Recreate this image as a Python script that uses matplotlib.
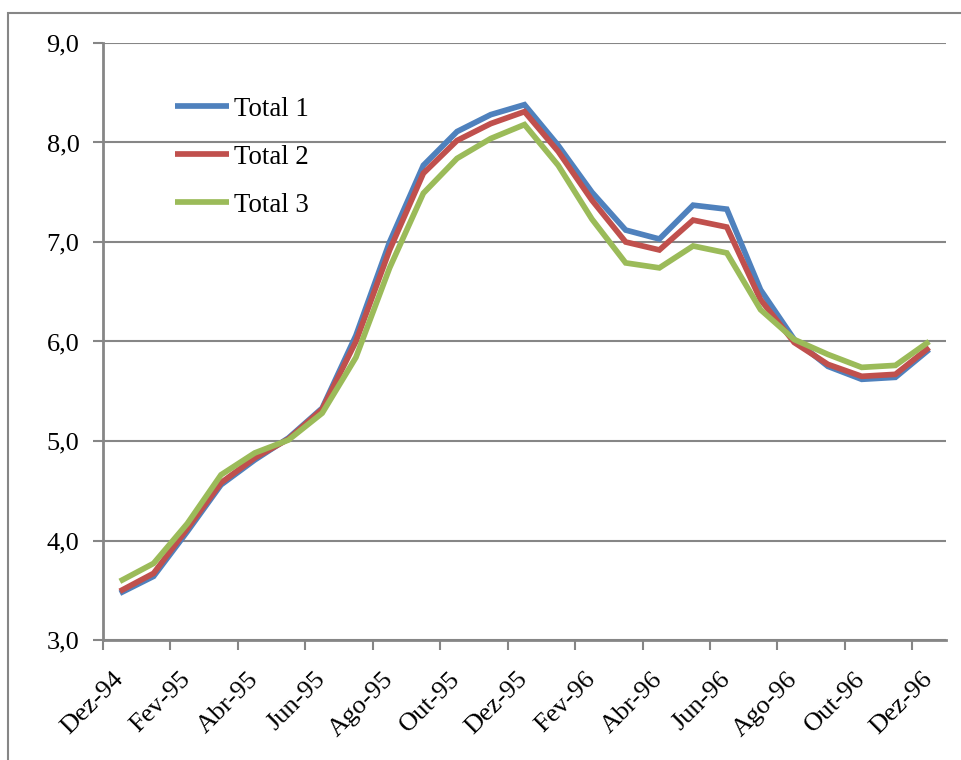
import matplotlib
matplotlib.use("Agg")
import matplotlib.pyplot as plt
from matplotlib.patches import Rectangle
from matplotlib.ticker import FuncFormatter, FixedLocator

months = ["Dez-94", "Jan-95", "Fev-95", "Mar-95", "Abr-95", "Mai-95", "Jun-95",
          "Jul-95", "Ago-95", "Set-95", "Out-95", "Nov-95", "Dez-95", "Jan-96",
          "Fev-96", "Mar-96", "Abr-96", "Mai-96", "Jun-96", "Jul-96", "Ago-96",
          "Set-96", "Out-96", "Nov-96", "Dez-96"]
total1 = [3.47, 3.64, 4.09, 4.56, 4.81, 5.03, 5.33, 6.06, 7.00, 7.77, 8.11, 8.28, 8.38,
          7.97, 7.50, 7.12, 7.03, 7.37, 7.33, 6.52, 6.02, 5.75, 5.62, 5.64, 5.92]
total2 = [3.49, 3.67, 4.12, 4.58, 4.83, 5.02, 5.32, 6.00, 6.92, 7.69, 8.02, 8.19, 8.31,
          7.91, 7.42, 7.00, 6.92, 7.22, 7.15, 6.42, 5.99, 5.77, 5.65, 5.67, 5.94]
total3 = [3.59, 3.77, 4.17, 4.66, 4.88, 5.01, 5.28, 5.84, 6.74, 7.49, 7.84, 8.04, 8.18,
          7.77, 7.23, 6.79, 6.74, 6.96, 6.89, 6.32, 6.02, 5.87, 5.74, 5.76, 6.00]
series_names = ["Total 1", "Total 2", "Total 3"]
colors = ["#4F81BD", "#C0504D", "#9BBB59"]

plt.rcParams['font.family'] = ['Liberation Serif', 'DejaVu Serif']
FS = 19
GRAY = "#868686"

fig = plt.figure(figsize=(9.62, 7.6), dpi=100)
ax = fig.add_axes([103/962, 1-640/760, (946-103)/962, (640-43)/760])

x = list(range(len(months)))
for vals, name, c in zip([total1, total2, total3], series_names, colors):
    ax.plot(x, vals, color=c, lw=4.1, label=name, solid_joinstyle='miter',
            solid_capstyle='butt')

ax.set_xlim(-0.5, len(months) - 0.5)
ax.set_ylim(3.0, 9.0)
ax.set_yticks([3, 4, 5, 6, 7, 8, 9])
ax.yaxis.set_major_formatter(FuncFormatter(lambda v, p: f"{v:.1f}".replace(".", ",")))
ax.grid(axis='y', color=GRAY, lw=1.5)
ax.set_axisbelow(True)

# x: major ticks at category boundaries every 2, labels at category centres (minor)
ax.xaxis.set_major_locator(FixedLocator([i - 0.5 for i in range(0, len(months), 2)]))
ax.set_xticklabels([])
ax.xaxis.set_minor_locator(FixedLocator(list(range(0, len(months), 2))))
ax.set_xticklabels([months[i] for i in range(0, len(months), 2)], minor=True)
ax.tick_params(axis='x', which='major', length=7, width=1.5, color=GRAY, direction='out')
ax.tick_params(axis='x', which='minor', length=0, pad=26, labelsize=FS)
for lab in ax.get_xticklabels(minor=True):
    lab.set_rotation(45)
    lab.set_ha('right')
    lab.set_va('center')
    lab.set_rotation_mode('anchor')
ax.tick_params(axis='y', length=7, width=1.5, color=GRAY, direction='out', pad=10, labelsize=FS)

for s in ['top', 'right']:
    ax.spines[s].set_visible(False)
for s in ['left', 'bottom']:
    ax.spines[s].set_color(GRAY)
    ax.spines[s].set_linewidth(2)

leg = ax.legend(loc='upper left', bbox_to_anchor=(0.086, 0.91), frameon=False,
                fontsize=FS + 0.3, handlelength=2.0, handletextpad=0.2, labelspacing=0.86,
                borderpad=0, borderaxespad=0)

fig.patches.append(Rectangle((8/962, -0.05), 1.1, 1.05 - 13/760, transform=fig.transFigure,
                             fill=False, edgecolor=GRAY, lw=1.5, zorder=0))

fig.savefig("out.png", dpi=100)
